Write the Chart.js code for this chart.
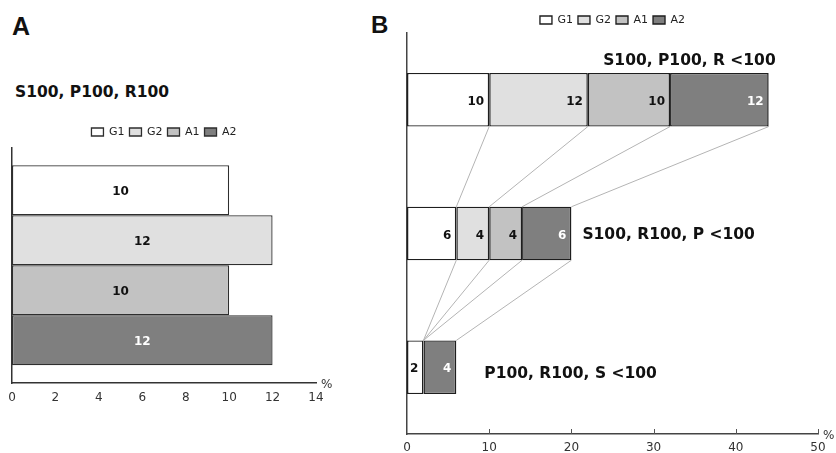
<!DOCTYPE html>
<html><head><meta charset="utf-8">
<script src="https://cdn.jsdelivr.net/npm/chart.js@4.4.1/dist/chart.umd.min.js"></script>
<style>
html,body{margin:0;padding:0;background:#fff;}
#wrap{position:relative;width:836px;height:453px;overflow:hidden;background:#fff;}
canvas{position:absolute;top:0;}
.lbl{position:absolute;white-space:nowrap;color:#111;}
</style></head><body>
<div id="wrap">
<div class="lbl" style="left:12px;top:14px;font:bold 25px/1 'Liberation Sans',Arial,sans-serif;">A</div>
<div class="lbl" style="left:371px;top:13px;font:bold 24px/1 'Liberation Sans',Arial,sans-serif;">B</div>
<div class="lbl" id="headA" style="left:15px;top:85px;font:bold 15.5px/1 'DejaVu Sans',sans-serif;"></div>
<canvas id="chartA" width="345" height="453" style="left:0px"></canvas>
<canvas id="chartB" width="476" height="453" style="left:360px"></canvas>
</div>
<script>
// ---- data ----
const groups = ['G1', 'G2', 'A1', 'A2'];
const headingA = 'S100, P100, R100';
const valuesA = [10, 12, 10, 12];
const categoriesB = ['S100, P100, R <100', 'S100, R100, P <100', 'P100, R100, S <100'];
const g1B = [10, 6, 2];
const g2B = [12, 4, 0];
const a1B = [10, 4, 0];
const a2B = [12, 6, 4];
const ticksA = [0, 2, 4, 6, 8, 10, 12, 14];
const ticksB = [0, 10, 20, 30, 40, 50];
const axisUnit = '%';

// ---- styles ----
const fills = ['#ffffff', '#e0e0e0', '#c2c2c2', '#7f7f7f'];
const labelInk = ['#111111', '#111111', '#111111', '#ffffff'];
Chart.defaults.font.family = "'DejaVu Sans', Verdana, sans-serif";
Chart.defaults.color = '#333';

document.getElementById('headA').textContent = headingA;

const valueLabels = {
  id: 'valueLabels',
  afterDatasetsDraw(chart, args, opts) {
    const ctx = chart.ctx;
    ctx.save();
    ctx.font = "bold 12px 'DejaVu Sans', Verdana, sans-serif";
    ctx.textBaseline = 'middle';
    chart.data.datasets.forEach((ds, i) => {
      const meta = chart.getDatasetMeta(i);
      meta.data.forEach((el, j) => {
        const v = ds.data[j];
        if (!v) return;
        ctx.fillStyle = labelInk[i];
        if (opts.align === 'center') {
          ctx.textAlign = 'center';
          ctx.fillText(String(v), (el.x + el.base) / 2, el.y + 2);
        } else {
          ctx.textAlign = 'right';
          ctx.fillText(String(v), el.x - 5, el.y + 2);
        }
      });
    });
    ctx.restore();
  }
};

const unitMark = {
  id: 'unitMark',
  afterDraw(chart) {
    const ctx = chart.ctx, a = chart.chartArea;
    ctx.save();
    ctx.font = "12px 'DejaVu Sans', Verdana, sans-serif";
    ctx.fillStyle = '#333';
    ctx.textAlign = 'left';
    ctx.textBaseline = 'middle';
    ctx.fillText(axisUnit, a.right + 5, a.bottom + 2);
    ctx.restore();
  }
};

const innerTicks = {
  id: 'innerTicks',
  afterDraw(chart) {
    const ctx = chart.ctx, xs = chart.scales.x;
    ctx.save();
    ctx.strokeStyle = '#555';
    ctx.lineWidth = 1;
    xs.ticks.forEach(t => {
      if (t.value === xs.min) return;
      const px = Math.round(xs.getPixelForValue(t.value)) + 0.5;
      ctx.beginPath();
      ctx.moveTo(px, xs.top);
      ctx.lineTo(px, xs.top - 5);
      ctx.stroke();
    });
    ctx.restore();
  }
};

const connectors = {
  id: 'connectors',
  beforeDatasetsDraw(chart) {
    const ctx = chart.ctx;
    const n = chart.data.labels.length;
    ctx.save();
    ctx.strokeStyle = '#b4b4b4';
    ctx.lineWidth = 1;
    chart.data.datasets.forEach((ds, i) => {
      const meta = chart.getDatasetMeta(i);
      for (let j = 0; j < n - 1; j++) {
        const a = meta.data[j], b = meta.data[j + 1];
        ctx.beginPath();
        ctx.moveTo(a.x, a.y + a.height / 2);
        ctx.lineTo(b.x, b.y - b.height / 2);
        ctx.stroke();
      }
    });
    ctx.restore();
  }
};

const rowTitles = {
  id: 'rowTitles',
  afterDatasetsDraw(chart) {
    const ctx = chart.ctx;
    const meta = chart.getDatasetMeta(chart.data.datasets.length - 1);
    ctx.save();
    ctx.font = "bold 15.5px 'DejaVu Sans', Verdana, sans-serif";
    ctx.fillStyle = '#111';
    chart.data.labels.forEach((txt, j) => {
      const el = meta.data[j];
      if (j === 0) {
        ctx.textAlign = 'right'; ctx.textBaseline = 'alphabetic';
        ctx.fillText(txt, el.x + 7, el.y - el.height / 2 - 8);
      } else if (j === 1) {
        ctx.textAlign = 'left'; ctx.textBaseline = 'middle';
        ctx.fillText(txt, el.x + 11, el.y + 1);
      } else {
        ctx.textAlign = 'left'; ctx.textBaseline = 'middle';
        ctx.fillText(txt, el.x + 28, el.y + 7);
      }
    });
    ctx.restore();
  }
};

const legendLabels = { boxWidth: 12, boxHeight: 8, padding: 5, font: { size: 11 }, color: '#222' };

// ---- Panel A ----
new Chart(document.getElementById('chartA'), {
  type: 'bar',
  data: {
    labels: [headingA],
    datasets: groups.map((g, i) => ({
      label: g,
      data: [valuesA[i]],
      backgroundColor: fills[i],
      borderColor: '#2e2e2e',
      borderWidth: 1.3,
      borderSkipped: false,
      categoryPercentage: 0.85,
      barPercentage: 1.0
    }))
  },
  options: {
    indexAxis: 'y',
    responsive: false,
    animation: false,
    events: [],
    layout: { padding: { top: 121.5, right: 29, left: 0, bottom: 0 } },
    plugins: {
      legend: { position: 'top', fullSize: false, labels: legendLabels },
      tooltip: { enabled: false },
      valueLabels: { align: 'center' }
    },
    scales: {
      x: {
        min: ticksA[0], max: ticksA[ticksA.length - 1],
        ticks: { stepSize: ticksA[1] - ticksA[0], padding: 8, font: { size: 12 }, color: '#333' },
        grid: { display: false, drawTicks: false },
        border: { display: true, color: '#333', width: 1.5 },
        afterFit: s => { s.height = 70; }
      },
      y: {
        ticks: { display: false },
        grid: { display: false, drawTicks: false },
        border: { display: true, color: '#333', width: 1.5 },
        afterFit: s => { s.width = 12; }
      }
    }
  },
  plugins: [valueLabels, unitMark]
});

// ---- Panel B ----
const seriesB = [g1B, g2B, a1B, a2B];
new Chart(document.getElementById('chartB'), {
  type: 'bar',
  data: {
    labels: categoriesB,
    datasets: groups.map((g, i) => ({
      label: g,
      data: seriesB[i],
      backgroundColor: fills[i],
      borderColor: '#1e1e1e',
      borderWidth: { top: 1.2, bottom: 1.2, left: 1.5, right: 1.5 },
      borderSkipped: false,
      categoryPercentage: 0.4,
      barPercentage: 1.0
    }))
  },
  options: {
    indexAxis: 'y',
    responsive: false,
    animation: false,
    events: [],
    layout: { padding: { top: 9.5, right: 18, left: 0, bottom: 0 } },
    plugins: {
      legend: { position: 'top', fullSize: false, maxHeight: 23.5, labels: legendLabels },
      tooltip: { enabled: false },
      valueLabels: { align: 'end' }
    },
    scales: {
      x: {
        stacked: true,
        min: ticksB[0], max: ticksB[ticksB.length - 1],
        ticks: { stepSize: ticksB[1] - ticksB[0], padding: 7, font: { size: 12 }, color: '#333' },
        grid: { display: false, drawTicks: false },
        border: { display: true, color: '#444', width: 1.5 },
        afterFit: s => { s.height = 19; }
      },
      y: {
        stacked: true,
        ticks: { display: false },
        grid: { display: false, drawTicks: false },
        border: { display: true, color: '#444', width: 1.5 },
        afterFit: s => { s.width = 47; }
      }
    }
  },
  plugins: [connectors, valueLabels, rowTitles, innerTicks, unitMark]
});
</script>
</body></html>
